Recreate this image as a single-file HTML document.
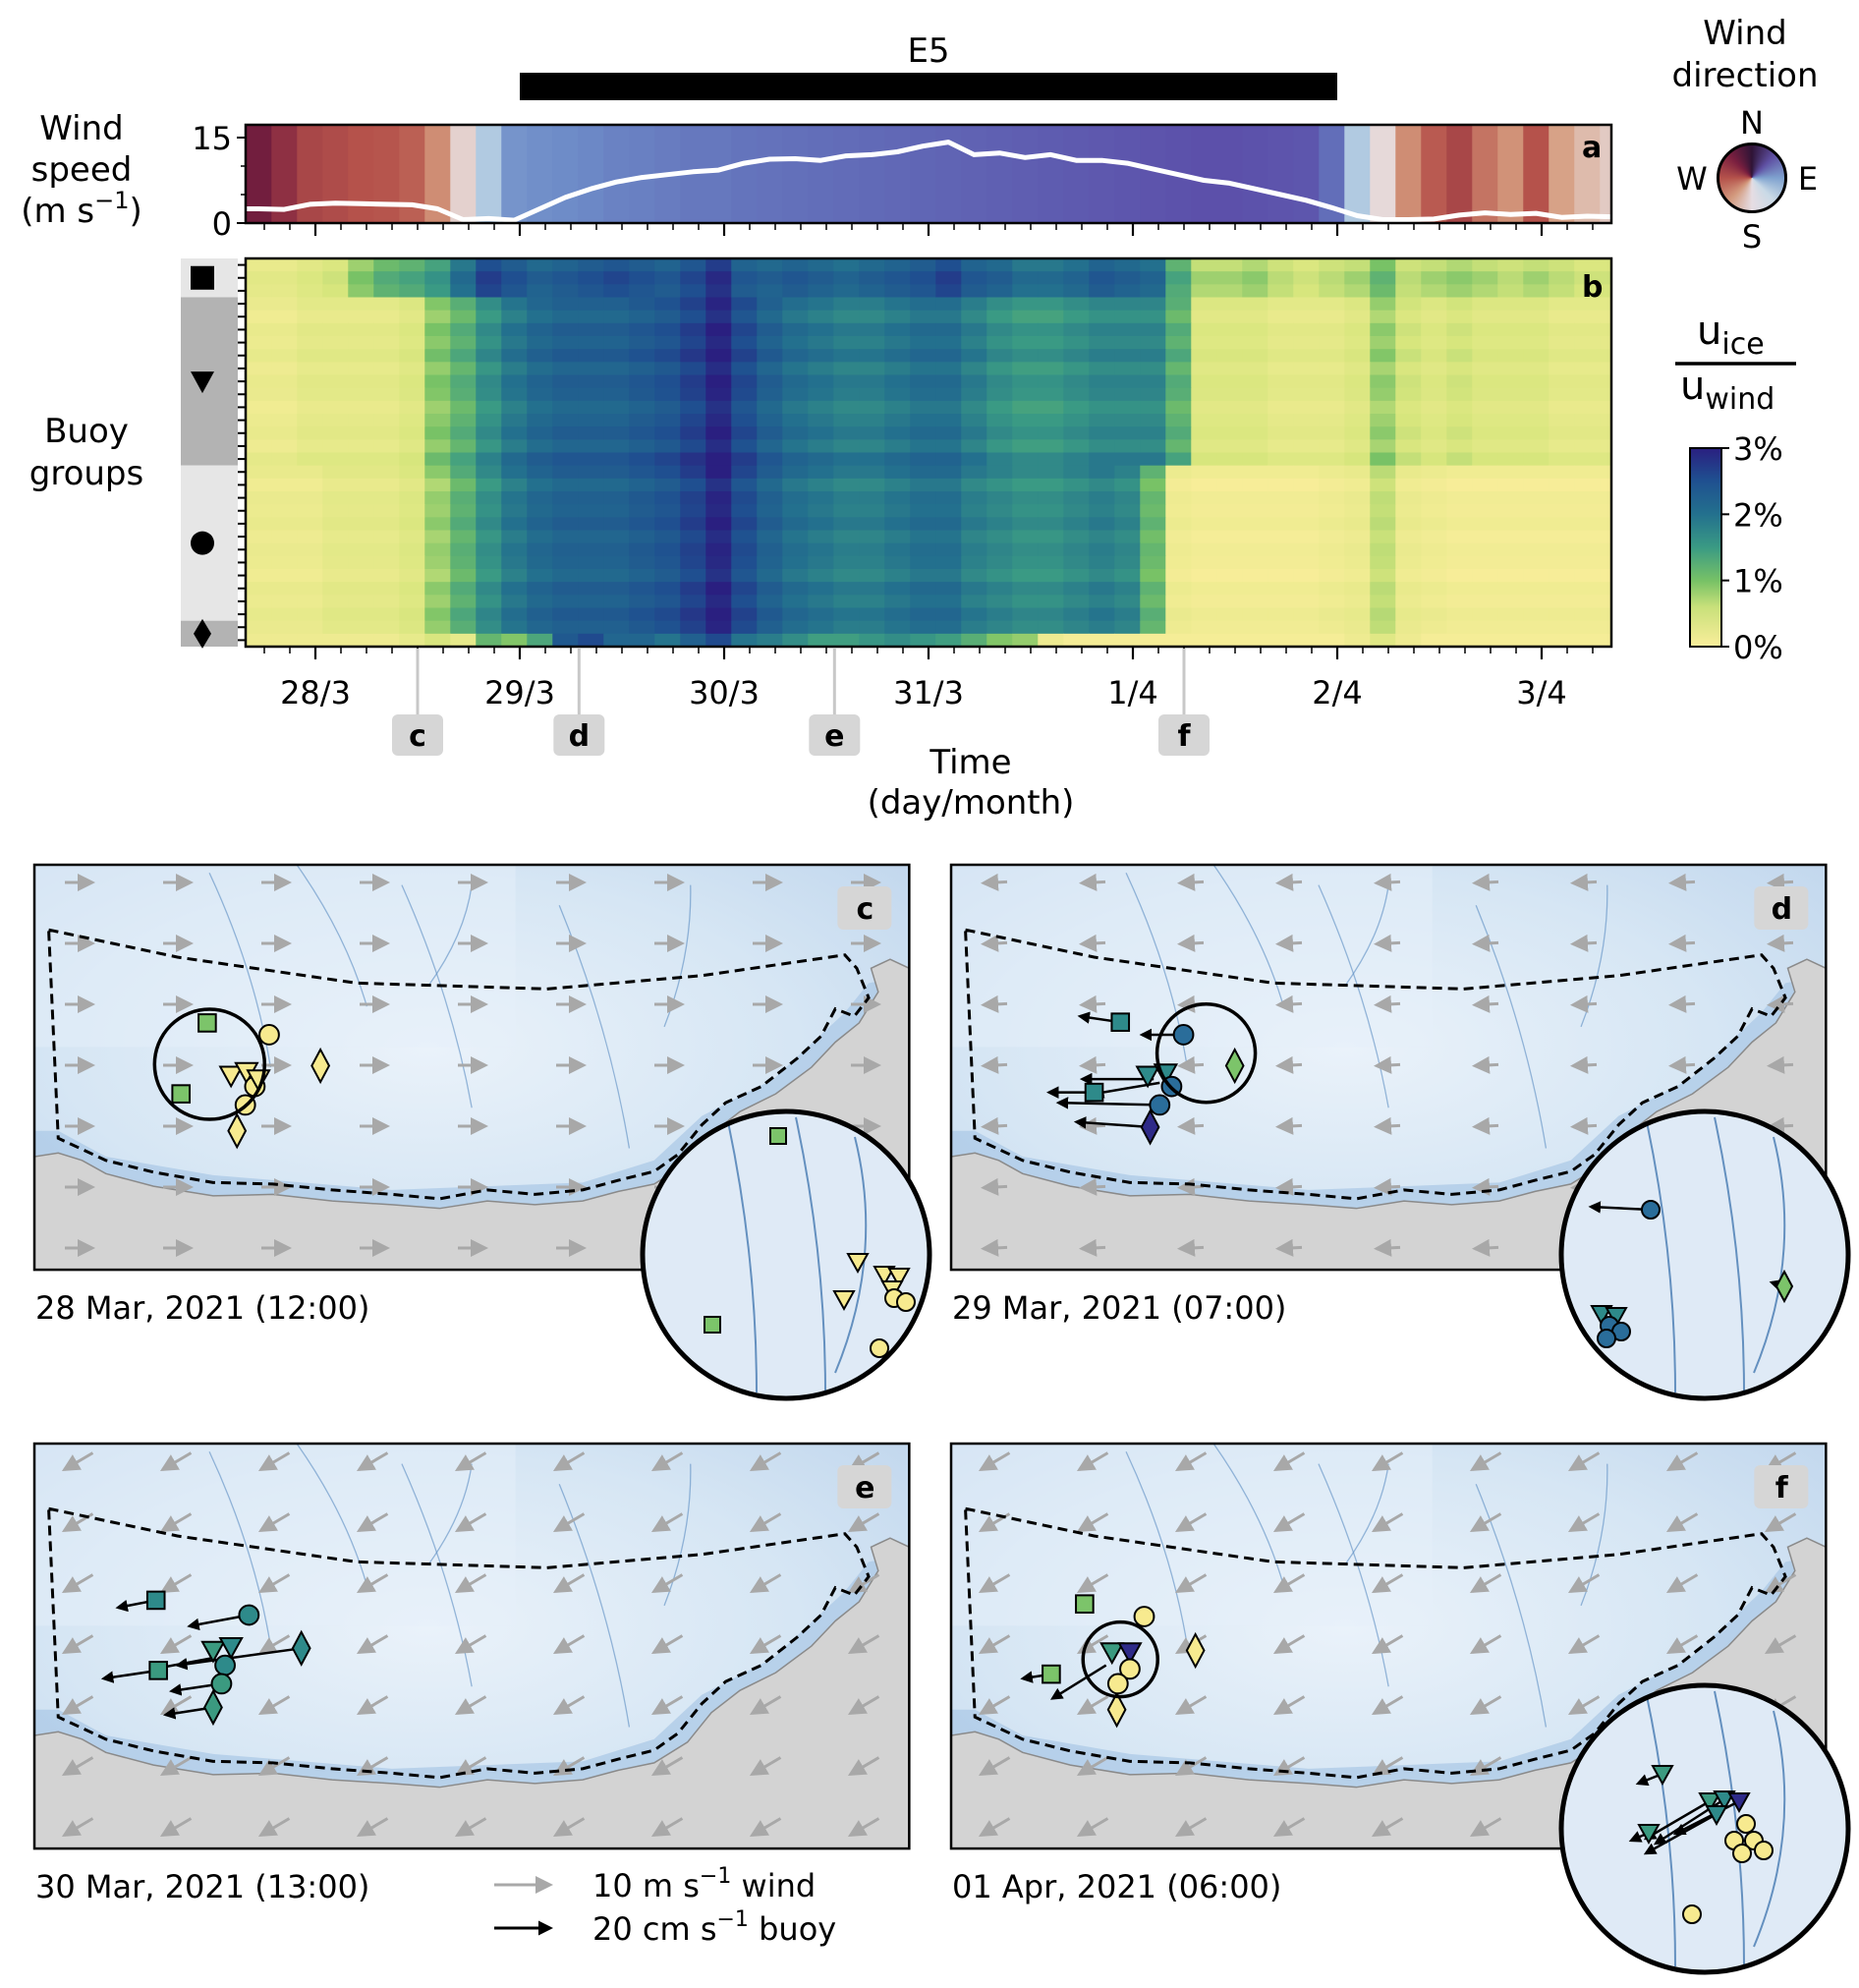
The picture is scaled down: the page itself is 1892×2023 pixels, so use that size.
<!DOCTYPE html>
<html><head><meta charset="utf-8">
<style>
html,body{margin:0;padding:0;background:#fff;}
#wrap{position:relative;width:1892px;height:2023px;overflow:hidden;}
svg{position:absolute;left:0;top:0;}
text{font-family:"DejaVu Sans","Liberation Sans",sans-serif;fill:#000;}
#compass{position:absolute;left:1747px;top:145px;width:72px;height:72px;border-radius:50%;border:3px solid #000;box-sizing:border-box;
background:conic-gradient(from 0deg,#2f1436 0deg,#5e4fa2 45deg,#7fa2cf 90deg,#c9d9e6 135deg,#e6dde3 180deg,#d39a7e 225deg,#b5524b 270deg,#7a1f3f 315deg,#2f1436 360deg);}
</style></head>
<body>
<div id="wrap">
<svg id="fig" width="1892" height="2023" viewBox="0 0 1892 2023" xmlns="http://www.w3.org/2000/svg">
<defs>
<linearGradient id="cbar" x1="0" y1="1" x2="0" y2="0">
<stop offset="0" stop-color="#faee9b"/><stop offset="0.2" stop-color="#c8e07a"/><stop offset="0.33" stop-color="#78c266"/>
<stop offset="0.5" stop-color="#3a9a84"/><stop offset="0.67" stop-color="#23708e"/><stop offset="0.84" stop-color="#1f4f90"/><stop offset="1" stop-color="#2a1f80"/>
</linearGradient>
<radialGradient id="iceg" cx="0.45" cy="0.45" r="0.7">
<stop offset="0" stop-color="#eaf2fa"/><stop offset="0.6" stop-color="#d6e6f4"/><stop offset="1" stop-color="#c3d8ee"/>
</radialGradient>
<marker id="ahg" markerWidth="6" markerHeight="6" refX="5" refY="3" orient="auto" markerUnits="strokeWidth"><path d="M0,0 L6,3 L0,6 z" fill="#a8a8a8"/></marker>
<marker id="ahk" markerWidth="5" markerHeight="5" refX="4" refY="2.5" orient="auto" markerUnits="strokeWidth"><path d="M0,0 L5,2.5 L0,5 z" fill="#000"/></marker>
</defs>
<g id="top"></g>
<g id="maps"></g>
</svg>
<div id="compass"></div>
</div>
<script>
// ---------- DATA ----------
const windSpeed = [2.5,2.4,3.3,3.5,3.4,3.3,3.2,2.5,0.6,0.8, 0.5,2.5,4.5,6,7.2,8,8.5,9,9.3,10.5, 11.2,11.3,11,11.8,12,12.5,13.5,14.2,12,12.3, 11.5,12,11,11,10.5,9.5,8.5,7.5,7,6, 5,4,2.7,1.3,0.6,0.6,0.7,1.4,1.8,1.5, 1.7,1.0,1.2,1.1];
const windDir = [320,300,280,275,270,268,262,235,190,130, 95,92,90,88,85,84,82,80,80,78, 77,76,75,74,73,72,71,70,69,68, 67,66,65,64,63,62,61,60,60,61, 62,63,75,130,185,235,265,280,250,232, 270,222,205,195];
const groupSquare = [0.3,0.3,0.4,0.5,0.9,1.2,1.3,1.5,2.0,2.6, 2.4,2.2,2.3,2.4,2.5,2.4,2.3,2.5,2.8,2.3, 2.2,2.3,2.2,2.1,2.2,2.3,2.4,2.6,2.3,2.2, 2.0,2.0,2.1,2.3,2.2,2.1,1.3,0.7,0.7,0.8, 0.6,0.5,0.6,0.7,1.1,0.6,0.7,0.8,0.7,0.6, 0.7,0.6,0.5,0.5];
const groupTriangle = [0.2,0.2,0.3,0.3,0.3,0.3,0.4,0.9,1.2,1.6, 1.9,2.1,2.2,2.2,2.2,2.3,2.4,2.6,2.9,2.5, 2.2,2.0,1.9,1.8,1.8,1.9,2.0,2.0,1.8,1.6, 1.5,1.5,1.6,1.7,1.7,1.7,1.2,0.4,0.4,0.4, 0.3,0.3,0.3,0.4,0.8,0.5,0.4,0.5,0.4,0.4, 0.4,0.3,0.3,0.3];
const groupCircle = [0.2,0.2,0.2,0.3,0.3,0.3,0.4,0.8,1.2,1.6, 1.9,2.1,2.2,2.2,2.2,2.3,2.4,2.6,2.9,2.5, 2.2,2.0,1.9,1.8,1.8,1.9,2.0,2.0,1.8,1.7, 1.6,1.6,1.7,1.8,1.7,1.1,0.15,0.1,0.1,0.1, 0.1,0.1,0.15,0.2,0.6,0.2,0.15,0.1,0.1,0.1, 0.1,0.1,0.1,0.1];
const groupDiamond = [0.2,0.2,0.2,0.2,0.2,0.2,0.3,0.5,0.3,1.2, 1.0,1.4,2.4,2.6,2.2,2.2,2.0,2.3,2.6,2.0, 1.9,1.7,1.5,1.5,1.6,1.7,1.6,1.5,1.3,1.0, 0.9,0.2,0.1,0.1,0.1,0.1,0.1,0.1,0.1,0.1, 0.1,0.1,0.1,0.2,0.4,0.2,0.1,0.1,0.1,0.1, 0.1,0.1,0.1,0.1];
const rowGroup = ['sq','sq','sq','tri','tri','tri','tri','tri','tri','tri','tri','tri','tri','tri','tri','tri','cir','cir','cir','cir','cir','cir','cir','cir','cir','cir','cir','cir','cir','dia'];
const rowOffset = [-0.1,0.1,0.0,0.05,-0.1,0.1,0.0,0.15,-0.05,0.1,0.05,-0.1,0.0,0.1,-0.05,0.2,0.1,-0.1,0.05,0.0,0.1,-0.05,0.05,0.0,-0.1,0.1,0.0,0.15,0.05,-0.05];
const dayLabels = ['28/3','29/3','30/3','31/3','1/4','2/4','3/4'];
const eventNames = ['c','d','e','f'];
const eventTimes = [0.5,1.29,2.54,4.25];
const e5Start = 1.0, e5End = 5.0;
const cbTicks = [0,1,2,3];
const speedTicks = [0,15];

(function(){
const T0 = -0.34, BIN = 0.125;
const X = t => 321 + 208*t;
const AX0 = 250, AX1 = 1640;
const aTop = 127, aBot = 227;
const Ya = v => aBot - (aBot-140)*v/15;
const bTop = 263, bBot = 658;
const NS = 'http://www.w3.org/2000/svg';
const top = document.getElementById('top');
function el(tag, attrs, parent, txt){
  const e = document.createElementNS(NS, tag);
  for(const k in attrs) e.setAttribute(k, attrs[k]);
  if(txt!==undefined) e.textContent = txt;
  (parent||top).appendChild(e); return e;
}
function lerp(a,b,f){return a+(b-a)*f;}
function interpStops(stops, v){
  v = Math.max(stops[0][0], Math.min(stops[stops.length-1][0], v));
  for(let i=0;i<stops.length-1;i++){
    const [p0,c0]=stops[i],[p1,c1]=stops[i+1];
    if(v>=p0 && v<=p1){const f=(v-p0)/(p1-p0||1);
      return 'rgb('+[0,1,2].map(k=>Math.round(lerp(c0[k],c1[k],f))).join(',')+')';}
  }
  return 'rgb(0,0,0)';
}
const dirStops=[[0,[47,20,54]],[45,[94,79,162]],[60,[92,80,170]],[75,[98,110,185]],[90,[110,140,200]],[135,[185,210,228]],[180,[232,224,228]],[225,[214,158,128]],[270,[181,82,75]],[315,[122,31,63]],[360,[47,20,54]]];
const uStops=[[0,[250,238,155]],[0.5,[215,230,125]],[1,[120,194,102]],[1.5,[58,154,132]],[2,[35,112,142]],[2.5,[31,79,144]],[3,[42,31,128]]];

windDir.forEach((d,i)=>{
  const x0=Math.max(AX0,X(T0+i*BIN)), x1=Math.min(AX1,X(T0+(i+1)*BIN));
  const r=el('rect',{x:x0,y:aTop,width:x1-x0+0.6,height:aBot-aTop,fill:interpStops(dirStops,d)});
  
  
});
{
  const pts = windSpeed.map((v,i)=>X(T0+(i+0.5)*BIN).toFixed(1)+','+Ya(v).toFixed(1));
  pts.unshift(AX0+','+Ya(windSpeed[0]).toFixed(1));
  pts.push(AX1+','+Ya(windSpeed[windSpeed.length-1]).toFixed(1));
  const l=el('polyline',{points:pts.join(' '),fill:'none',stroke:'#fff','stroke-width':5,'stroke-linejoin':'round'});
  
  
}
el('rect',{x:AX0,y:aTop,width:AX1-AX0,height:aBot-aTop,fill:'none',stroke:'#000','stroke-width':2.5,});
speedTicks.forEach(v=>{
  el('line',{x1:AX0-9,x2:AX0,y1:Ya(v),y2:Ya(v),stroke:'#000','stroke-width':2});
  const t=el('text',{x:AX0-14,y:Ya(v)+12,'font-size':32,'text-anchor':'end'},top,String(v));
  
  
});
el('line',{x1:AX0-5,x2:AX0,y1:Ya(10),y2:Ya(10),stroke:'#000','stroke-width':1.5});
el('line',{x1:AX0-5,x2:AX0,y1:Ya(5),y2:Ya(5),stroke:'#000','stroke-width':1.5});
el('text',{x:1610,y:160,'font-size':30,'font-weight':'bold',},top,'a');
el('rect',{x:X(e5Start),y:74,width:X(e5End)-X(e5Start),height:28,fill:'#000',});
el('text',{x:(X(e5Start)+X(e5End))/2,y:63,'font-size':34,'text-anchor':'middle',},top,'E5');
const wsl=el('text',{x:83,y:142,'font-size':34,'text-anchor':'middle',});
['Wind','speed'].forEach((s,i)=>el('tspan',{x:83,y:142+42*i},wsl,s));
el('tspan',{x:83,y:226},wsl,'(m s');
el('tspan',{dy:-14,'font-size':24},wsl,'−1');
el('tspan',{dy:14},wsl,')');

const groups={sq:groupSquare,tri:groupTriangle,cir:groupCircle,dia:groupDiamond};
const RH=(bBot-bTop)/rowGroup.length;
rowGroup.forEach((g,r)=>{
  groups[g].forEach((v,i)=>{
    const x0=Math.max(AX0,X(T0+i*BIN)), x1=Math.min(AX1,X(T0+(i+1)*BIN));
    const val=Math.max(0,v+(v>0.6?rowOffset[r]:rowOffset[r]*0.5));
    const c=el('rect',{x:x0,y:bTop+r*RH,width:x1-x0+0.6,height:RH+0.6,fill:interpStops(uStops,val)});
    
    
  });
  el('line',{x1:AX0-8,x2:AX0,y1:bTop+(r+0.5)*RH,y2:bTop+(r+0.5)*RH,stroke:'#000','stroke-width':2});
});
el('rect',{x:AX0,y:bTop,width:AX1-AX0,height:bBot-bTop,fill:'none',stroke:'#000','stroke-width':2.5,});
el('text',{x:1610,y:302,'font-size':30,'font-weight':'bold',},top,'b');
const strips=[[0,3,'#e6e6e6','sq'],[3,16,'#b3b3b3','tri'],[16,28,'#e6e6e6','cir'],[28,30,'#b3b3b3','dia']];
strips.forEach(([a,b,col,g])=>{
  el('rect',{x:184,y:bTop+a*RH,width:58,height:(b-a)*RH,fill:col,});
  const cy=bTop+(a+b)/2*RH, cx=206;
  if(g==='sq') el('rect',{x:cx-12,y:cy-12,width:24,height:24,fill:'#000'});
  if(g==='tri') el('polygon',{points:`${cx-12},${cy-10} ${cx+12},${cy-10} ${cx},${cy+12}`,fill:'#000'});
  if(g==='cir') el('circle',{cx:cx,cy:cy,r:12,fill:'#000'});
  if(g==='dia') el('polygon',{points:`${cx},${cy-15} ${cx+9},${cy} ${cx},${cy+15} ${cx-9},${cy}`,fill:'#000'});
});
const bgl=el('text',{x:88,y:450,'font-size':34,'text-anchor':'middle',});
el('tspan',{x:88,y:450},bgl,'Buoy');el('tspan',{x:88,y:493},bgl,'groups');
for(let k=0;k<=56;k++){
  const t=-0.25+k*BIN; const x=X(t); if(x<AX0||x>AX1) continue;
  const major=Math.abs(t-Math.round(t))<1e-6;
  const L=major?13:7;
  el('line',{x1:x,x2:x,y1:aBot,y2:aBot+L,stroke:'#000','stroke-width':major?2.2:1.5});
  el('line',{x1:x,x2:x,y1:bBot,y2:bBot+L,stroke:'#000','stroke-width':major?2.2:1.5});
}
dayLabels.forEach((d,i)=>{
  const t=el('text',{x:X(i),y:716,'font-size':32,'text-anchor':'middle'},top,d);
  
  
});
const tl=el('text',{x:988,y:787,'font-size':34,'text-anchor':'middle',});
el('tspan',{x:988,y:787},tl,'Time');el('tspan',{x:988,y:828},tl,'(day/month)');
eventTimes.forEach((t,i)=>{
  const x=X(t);
  el('line',{x1:x,x2:x,y1:bBot+2,y2:735,stroke:'#c8c8c8','stroke-width':3});
  const b=el('rect',{x:x-26,y:727,width:52,height:42,rx:6,fill:'#d6d6d6'});
  
  
  el('text',{x:x,y:759,'font-size':30,'font-weight':'bold','text-anchor':'middle'},top,eventNames[i]);
});
el('rect',{x:1720,y:456,width:32,height:202,fill:'url(#cbar)',stroke:'#000','stroke-width':2,});
cbTicks.forEach(v=>{
  const y=658-202*v/3;
  el('line',{x1:1752,x2:1760,y1:y,y2:y,stroke:'#000','stroke-width':2});
  const t=el('text',{x:1764,y:y+12,'font-size':32},top,v+'%');
  
  
});
const u1=el('text',{x:1727,y:350,'font-size':40,},top,'u');
el('tspan',{dy:10,'font-size':30},u1,'ice');
el('line',{x1:1705,x2:1828,y1:370,y2:370,stroke:'#000','stroke-width':3.5});
const u2=el('text',{x:1710,y:406,'font-size':40,},top,'u');
el('tspan',{dy:10,'font-size':30},u2,'wind');
const wdt=el('text',{x:1776,y:45,'font-size':34,'text-anchor':'middle',});
el('tspan',{x:1776,y:45},wdt,'Wind');el('tspan',{x:1776,y:88},wdt,'direction');
[['N',1783,136],['S',1783,252],['W',1722,193],['E',1840,193]].forEach(([s,x,y])=>{
  el('text',{x:x,y:y,'font-size':32,'text-anchor':'middle',},top,s);
});

const maps=document.getElementById('maps');
const SX=1.213, SY=0.752;
const boundary=[[12,88],[120,125],[270,160],[430,168],[560,150],[680,122],[690,140],[700,180],[688,205],[672,195],[660,232],[640,262],[610,300],[580,322],[560,352],[540,392],[520,415],[490,427],[460,440],[420,446],[380,440],[340,452],[300,446],[250,440],[200,432],[150,430],[100,416],[60,400],[20,370],[12,88]];
const land=[[0,548],[0,395],[20,390],[40,400],[60,418],[100,435],[150,448],[200,446],[250,455],[300,460],[340,465],[380,455],[420,460],[460,455],[490,442],[520,432],[548,404],[568,364],[592,334],[622,310],[652,274],[672,240],[692,214],[708,172],[702,140],[718,128],[734,140],[734,548]];
const cols={y:'#f7ea8f',g:'#7cc46a',t:'#2e8a8a',b:'#2a6d9a',k:'#2e2a88',m:'#3b9a80'};
const panels=[
 {id:'c',ox:35,oy:880,date:'28 Mar, 2021 (12:00)',wind:[1,0],ring:[147,270,56],
  m:[['s',145,214,'g'],['s',123,310,'g'],['o',197,230,'y'],['v',165,285,'y'],['v',178,280,'y'],['o',185,300,'y'],['o',177,325,'y'],['d',240,272,'y'],['d',170,360,'y'],['v',188,290,'y']],arrows:[]},
 {id:'d',ox:968,oy:880,date:'29 Mar, 2021 (07:00)',wind:[-1,0.05],ring:[214,255,50],
  m:[['s',142,213,'t'],['o',195,230,'b'],['v',165,285,'t'],['v',180,282,'t'],['o',185,300,'b'],['s',120,308,'t'],['o',175,325,'b'],['d',167,355,'k'],['d',238,272,'g']],
  arrows:[[142,213,108,205],[195,230,160,230],[170,290,110,290],[120,308,82,308],[175,325,90,322],[167,355,105,348],[175,295,120,310]]},
 {id:'e',ox:35,oy:1469,date:'30 Mar, 2021 (13:00)',wind:[-0.85,0.5],ring:null,
  m:[['s',102,212,'t'],['o',180,232,'t'],['v',150,280,'m'],['v',165,275,'t'],['o',160,300,'t'],['d',224,277,'t'],['s',104,307,'m'],['d',150,357,'m'],['o',157,325,'m']],
  arrows:[[102,212,70,222],[180,232,130,247],[224,277,120,300],[104,307,58,318],[150,357,110,367],[157,325,115,335],[150,290,100,305]]},
 {id:'f',ox:968,oy:1469,date:'01 Apr, 2021 (06:00)',wind:[-0.85,0.5],ring:[142,292,38],
  m:[['s',112,217,'g'],['o',162,234,'y'],['d',205,280,'y'],['s',84,312,'g'],['d',139,360,'y'],['v',135,282,'m'],['v',150,282,'k'],['o',150,305,'y'],['o',140,325,'y']],
  arrows:[[130,300,85,345],[84,312,60,318]]}
];
function mk(tag,attrs,parent,txt){return el(tag,attrs,parent||maps,txt);}
function marker(g,type,x,y,col,s){
  s=s||11;
  let e;
  if(type==='s') e=mk('rect',{x:x-s*0.8,y:y-s*0.8,width:s*1.6,height:s*1.6,fill:col,stroke:'#000','stroke-width':2},g);
  if(type==='o') e=mk('circle',{cx:x,cy:y,r:s*0.9,fill:col,stroke:'#000','stroke-width':2},g);
  if(type==='v') e=mk('polygon',{points:`${x-s},${y-s*0.8} ${x+s},${y-s*0.8} ${x},${y+s}`,fill:col,stroke:'#000','stroke-width':2},g);
  if(type==='d') e=mk('polygon',{points:`${x},${y-s*1.5} ${x+s*0.8},${y} ${x},${y+s*1.5} ${x-s*0.8},${y}`,fill:col,stroke:'#000','stroke-width':2},g);
  
  
}
panels.forEach(p=>{
  const W=734*SX,H=548*SY;
  const g=mk('g',{});
  const cp=mk('clipPath',{id:'clip'+p.id},g);
  mk('rect',{x:p.ox,y:p.oy,width:W,height:H},cp);
  const inner=mk('g',{'clip-path':'url(#clip'+p.id+')'},g);
  mk('rect',{x:p.ox,y:p.oy,width:W,height:H,fill:'url(#iceg)'},inner);
  mk('rect',{x:p.ox,y:p.oy,width:W*0.55,height:H*0.45,fill:'#e6eff9',opacity:0.5},inner);
  [[0.2,0.02,0.27,0.5],[0.42,0.05,0.5,0.6],[0.6,0.1,0.68,0.7],[0.3,0.0,0.38,0.35],[0.75,0.05,0.72,0.4],[0.5,0.05,0.45,0.3]].forEach(c=>{
    mk('path',{d:`M${p.ox+c[0]*W},${p.oy+c[1]*H} Q${p.ox+(c[0]+c[2])/2*W+15},${p.oy+(c[1]+c[3])/2*H} ${p.ox+c[2]*W},${p.oy+c[3]*H}`,fill:'none',stroke:'#5a8cc2','stroke-width':1.3,opacity:0.6},inner);
  });
  mk('path',{d:'M'+[[0,360],[20,360],[60,395],[150,420],[300,440],[460,430],[520,400],[560,340],[620,290],[680,200],[700,160],[734,150],[734,548],[0,548]].map(([x,y])=>(p.ox+x*SX)+','+(p.oy+y*SY)).join(' L')+'Z',fill:'#a9c8e6',opacity:0.7},inner);
  mk('polygon',{points:land.map(([x,y])=>(p.ox+x*SX)+','+(p.oy+y*SY)).join(' '),fill:'#d3d3d3',stroke:'#8a8a8a','stroke-width':1.5,},inner);
  for(let gx=0;gx<9;gx++)for(let gy=0;gy<7;gy++){
    const cx=p.ox+45+gx*100, cy=p.oy+18+gy*62;
    const L=p.id==='c'?28:(p.id==='d'?24:34);
    const a=mk('line',{x1:cx-p.wind[0]*L/2,y1:cy-p.wind[1]*L/2,x2:cx+p.wind[0]*L/2,y2:cy+p.wind[1]*L/2,stroke:'#a8a8a8','stroke-width':3,'marker-end':'url(#ahg)'},inner);
    
    
  }
  mk('polyline',{points:boundary.map(([x,y])=>(p.ox+x*SX)+','+(p.oy+y*SY)).join(' '),fill:'none',stroke:'#000','stroke-width':3,'stroke-dasharray':'10,6',},inner);
  p.arrows.forEach(a=>{
    const e=mk('line',{x1:p.ox+a[0]*SX,y1:p.oy+a[1]*SY,x2:p.ox+a[2]*SX,y2:p.oy+a[3]*SY,stroke:'#000','stroke-width':2.5,'marker-end':'url(#ahk)'},inner);
    
    
  });
  p.m.forEach(m=>marker(inner,m[0],p.ox+m[1]*SX,p.oy+m[2]*SY,cols[m[3]]));
  if(p.ring) mk('circle',{cx:p.ox+p.ring[0]*SX,cy:p.oy+p.ring[1]*SY,r:p.ring[2],fill:'none',stroke:'#000','stroke-width':3.5,},inner);
  mk('rect',{x:p.ox,y:p.oy,width:W,height:H,fill:'none',stroke:'#000','stroke-width':2.5},g);
  mk('rect',{x:p.ox+W-73,y:p.oy+22,width:55,height:44,rx:6,fill:'#d6d6d6'},g);
  mk('text',{x:p.ox+W-45,y:p.oy+55,'font-size':30,'font-weight':'bold','text-anchor':'middle',},g,p.id);
  mk('text',{x:p.ox+1,y:p.oy+H+50,'font-size':32,},g,p.date);
});
const insets=[
 {id:'c',cx:800,cy:1277,m:[['s',-8,-121,'g'],['s',-75,71,'g'],['v',73,7,'y'],['v',59,45,'y'],['v',100,20,'y'],['v',115,22,'y'],['v',108,35,'y'],['o',110,44,'y'],['o',122,48,'y'],['o',95,95,'y']],arrows:[]},
 {id:'d',cx:1735,cy:1277,m:[['o',-55,-46,'b'],['v',-105,60,'t'],['v',-90,62,'t'],['o',-97,72,'b'],['o',-85,78,'b'],['o',-100,85,'b'],['d',81,32,'g']],arrows:[[-55,-46,-116,-49],[81,32,68,28]]},
 {id:'f',cx:1735,cy:1861,m:[['v',-43,-56,'m'],['v',5,-28,'m'],['v',20,-30,'t'],['v',35,-28,'k'],['v',12,-15,'t'],['v',-57,4,'m'],['o',42,-5,'y'],['o',50,12,'y'],['o',30,12,'y'],['o',60,22,'y'],['o',38,25,'y'],['o',-13,87,'y']],arrows:[[-43,-56,-68,-46],[5,-28,-60,10],[20,-30,-50,15],[12,-15,-60,25],[35,-28,-30,5],[-57,4,-75,12]]}
];
insets.forEach(s=>{
  const R=146;
  const g=mk('g',{});
  const cp=mk('clipPath',{id:'iclip'+s.id},g);
  mk('circle',{cx:s.cx,cy:s.cy,r:R},cp);
  const inner=mk('g',{'clip-path':'url(#iclip'+s.id+')'},g);
  mk('circle',{cx:s.cx,cy:s.cy,r:R,fill:'#dfeaf6'},inner);
  [[-60,-140,-30,140],[10,-140,40,140],[70,-120,50,120]].forEach(c=>{
    mk('path',{d:`M${s.cx+c[0]},${s.cy+c[1]} Q${s.cx+c[0]+30},${s.cy} ${s.cx+c[2]},${s.cy+c[3]}`,fill:'none',stroke:'#2f6aa8','stroke-width':2,opacity:0.7},inner);
  });
  s.arrows.forEach(a=>{
    const e=mk('line',{x1:s.cx+a[0],y1:s.cy+a[1],x2:s.cx+a[2],y2:s.cy+a[3],stroke:'#000','stroke-width':2.5,'marker-end':'url(#ahk)'},inner);
    
    
  });
  s.m.forEach(m=>marker(inner,m[0],s.cx+m[1],s.cy+m[2],cols[m[3]],10));
  mk('circle',{cx:s.cx,cy:s.cy,r:R,fill:'none',stroke:'#000','stroke-width':5},g);
});
mk('line',{x1:503,x2:560,y1:1918,y2:1918,stroke:'#a8a8a8','stroke-width':3,'marker-end':'url(#ahg)',});
mk('line',{x1:503,x2:560,y1:1962,y2:1962,stroke:'#000','stroke-width':3,'marker-end':'url(#ahk)',});
const lt1=mk('text',{x:603,y:1930,'font-size':32,},maps,'10 m s');
mk('tspan',{dy:-14,'font-size':22},lt1,'−1');mk('tspan',{dy:14},lt1,' wind');
const lt2=mk('text',{x:603,y:1974,'font-size':32,},maps,'20 cm s');
mk('tspan',{dy:-14,'font-size':22},lt2,'−1');mk('tspan',{dy:14},lt2,' buoy');
})();
</script>
</body></html>
